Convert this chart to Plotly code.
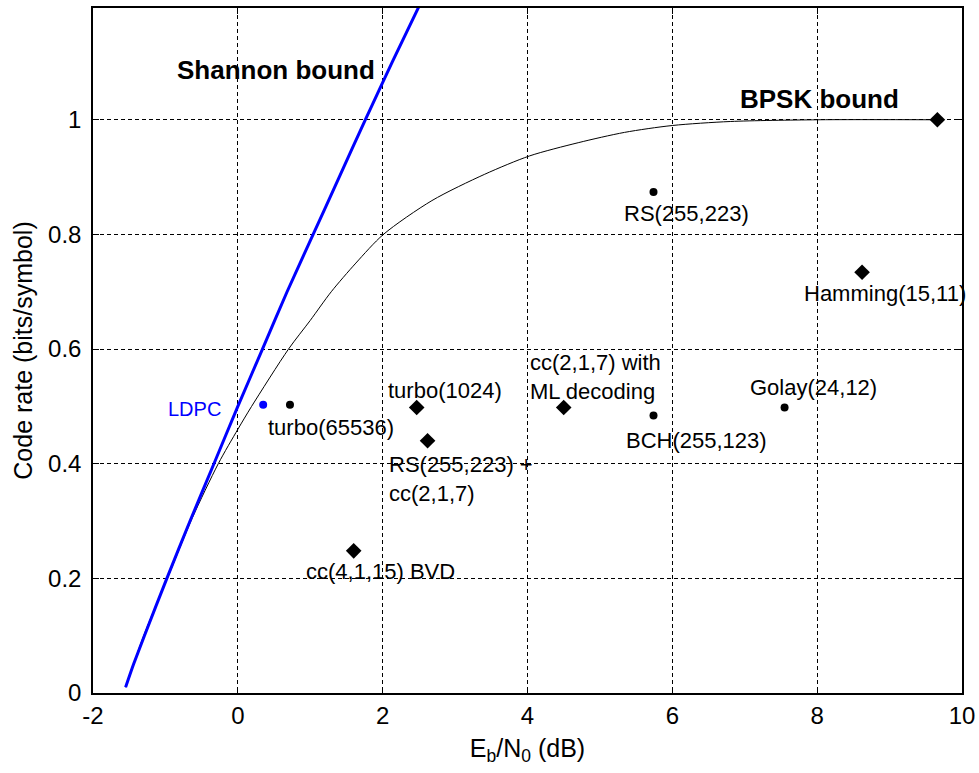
import plotly.graph_objects as go

# Shannon bound: Eb/N0 in dB vs code rate
shannon_x = [-1.55, -1.44, -1.29, -0.98, -0.66, -0.33, 0.0, 0.34, 0.68, 1.04, 1.40, 1.76, 2.13, 2.51]
shannon_y = [0.01, 0.05, 0.10, 0.20, 0.30, 0.40, 0.50, 0.60, 0.70, 0.80, 0.90, 1.00, 1.10, 1.20]

# BPSK bound
bpsk_x = [-1.55, -1.30, -0.95, -0.63, -0.27, 0.00, 0.19, 0.70, 1.00, 1.29, 1.63, 2.01, 2.68, 3.41, 4.03, 4.70, 5.34, 6.00, 6.80, 8.00, 9.66]
bpsk_y = [0.01, 0.10, 0.207, 0.305, 0.40, 0.46, 0.50, 0.60, 0.65, 0.70, 0.75, 0.80, 0.859, 0.905, 0.937, 0.96, 0.978, 0.99, 0.997, 1.0, 1.0]

# Coding schemes (small dots)
small_names = ["turbo(65536)", "BCH(255,123)", "RS(255,223)", "Golay(24,12)"]
small_x = [0.72, 5.74, 5.74, 7.55]
small_y = [0.503, 0.484, 0.874, 0.498]

# Coding schemes (large markers)
big_names = ["turbo(1024)", "RS(255,223) +<br>cc(2,1,7)", "cc(4,1,15) BVD", "cc(2,1,7) with<br>ML decoding",
             "Hamming(15,11)", "BPSK bound point"]
big_x = [2.47, 2.62, 1.60, 4.50, 8.62, 9.66]
big_y = [0.498, 0.440, 0.248, 0.498, 0.734, 1.0]

ldpc_x = [0.35]
ldpc_y = [0.503]

x_ticks = [-2, 0, 2, 4, 6, 8, 10]
x_ticktext = ["-2", "0", "2", "4", "6", "8", "10"]
y_ticks = [0, 0.2, 0.4, 0.6, 0.8, 1.0]
y_ticktext = ["0", "0.2", "0.4", "0.6", "0.8", "1"]

fig = go.Figure()
fig.add_trace(go.Scatter(x=bpsk_x, y=bpsk_y, mode="lines", line=dict(color="black", width=1, shape="spline", smoothing=0.8), showlegend=False))
fig.add_trace(go.Scatter(x=shannon_x, y=shannon_y, mode="lines", line=dict(color="#0000ff", width=3, shape="spline", smoothing=0.6), showlegend=False))
fig.add_trace(go.Scatter(x=small_x, y=small_y, mode="markers", marker=dict(color="black", size=8, symbol="circle"), showlegend=False))
fig.add_trace(go.Scatter(x=big_x, y=big_y, mode="markers", marker=dict(color="black", size=12, symbol="diamond"), showlegend=False))
fig.add_trace(go.Scatter(x=ldpc_x, y=ldpc_y, mode="markers", marker=dict(color="#0000ff", size=8, symbol="circle"), showlegend=False))

FONT = "Liberation Sans, Arial, sans-serif"
lab_font = dict(family=FONT, size=22, color="black")

# label offsets in pixels relative to each point: (xshift of left edge, yshift of center)
small_off = [(-24, -23), (-30, -25), (-32, -21), (-37, 20)]
big_off = [(-31, 17), (-41, -38), (-50, -21), (-36, 31), (-60, -21), None]

annotations = []
for n, x, y, o in zip(small_names, small_x, small_y, small_off):
    annotations.append(dict(x=x, y=y, text=n, showarrow=False, xanchor="left", yanchor="middle",
                            xshift=o[0], yshift=o[1], font=lab_font))
for n, x, y, o in zip(big_names, big_x, big_y, big_off):
    if o is None:
        continue
    annotations.append(dict(x=x, y=y, text=n, showarrow=False, xanchor="left", yanchor="middle",
                            xshift=o[0], yshift=o[1], font=lab_font, align="left"))
annotations.append(dict(x=ldpc_x[0], y=ldpc_y[0], text="LDPC", showarrow=False, xanchor="right", yanchor="middle",
                        xshift=-40, yshift=-4, font=dict(family=FONT, size=20, color="#0000ff")))
annotations.append(dict(x=-0.87, y=1.087, text="<b>Shannon bound</b>", showarrow=False, xanchor="left", yanchor="middle",
                        font=dict(family=FONT, size=26, color="black")))
annotations.append(dict(x=6.91, y=1.037, text="<b>BPSK bound</b>", showarrow=False, xanchor="left", yanchor="middle",
                        font=dict(family=FONT, size=26, color="black")))

axis_common = dict(showline=True, linecolor="black", linewidth=1.5, mirror="ticks",
                   ticks="inside", ticklen=6, tickcolor="black", tickwidth=1,
                   showgrid=True, gridcolor="black", gridwidth=1, griddash="4px,3px",
                   zeroline=False, automargin=False,
                   tickfont=dict(family=FONT, size=24, color="black"))

fig.update_layout(
    width=979, height=773,
    margin=dict(l=93, r=17, t=8, b=80),
    paper_bgcolor="white", plot_bgcolor="white",
    xaxis=dict(range=[-2, 10], tickvals=x_ticks, ticktext=x_ticktext,
               title=dict(text="E<sub>b</sub>/N<sub>0</sub> (dB)", font=dict(family=FONT, size=25, color="black"), standoff=12),
               **axis_common),
    yaxis=dict(range=[0, 1.195], tickvals=y_ticks, ticktext=y_ticktext, ticklabelstandoff=5,
               title=dict(text="Code rate (bits/symbol)", font=dict(family=FONT, size=25, color="black"), standoff=8),
               **axis_common),
    annotations=annotations,
)

fig.write_html("out.html", config={"displayModeBar": False},
               post_script="document.body.style.margin='0';document.body.style.overflow='hidden';")
